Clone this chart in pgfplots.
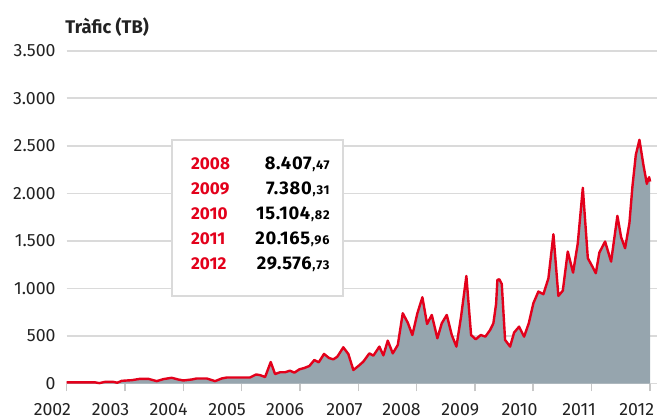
\documentclass[border=0pt]{standalone}
\usepackage{pgfplots}
\pgfplotsset{compat=1.18}
\usepackage{pgfplotstable}
\usepackage{fontspec}
\setmainfont{Fira Sans}
\definecolor{lred}{HTML}{E3001B}
\definecolor{lfill}{HTML}{96A5AE}
\definecolor{lgrid}{HTML}{DADADA}
\definecolor{ltxt}{HTML}{222222}

\pgfplotstableread{
x y
2002.000 12
2002.485 12
2002.559 4
2002.657 17
2002.799 17
2002.868 8
2002.943 28
2003.115 35
2003.257 49
2003.400 49
2003.544 25
2003.657 46
2003.801 60
2003.914 42
2004.000 32
2004.144 42
2004.230 53
2004.401 53
2004.544 25
2004.659 53
2004.744 63
2005.144 63
2005.247 95
2005.316 88
2005.402 68
2005.499 226
2005.573 100
2005.659 118
2005.744 118
2005.830 135
2005.904 114
2005.990 149
2006.075 163
2006.161 184
2006.247 247
2006.322 223
2006.413 311
2006.499 268
2006.573 254
2006.641 282
2006.744 381
2006.830 310
2006.916 142
2007.002 184
2007.087 230
2007.190 317
2007.259 293
2007.362 388
2007.431 296
2007.506 451
2007.592 317
2007.678 405
2007.763 739
2007.849 640
2007.928 510
2008.014 739
2008.100 907
2008.180 626
2008.261 721
2008.357 475
2008.432 633
2008.518 721
2008.604 510
2008.683 388
2008.763 703
2008.854 1131
2008.935 510
2009.015 465
2009.101 510
2009.180 493
2009.261 563
2009.317 633
2009.364 837
2009.386 1089
2009.420 1096
2009.461 1047
2009.518 458
2009.604 388
2009.672 535
2009.758 598
2009.844 493
2009.924 633
2010.003 844
2010.089 967
2010.175 939
2010.261 1107
2010.347 1570
2010.432 921
2010.508 977
2010.593 1388
2010.684 1166
2010.765 1476
2010.851 2058
2010.937 1318
2011.015 1230
2011.074 1160
2011.135 1377
2011.233 1493
2011.336 1282
2011.444 1763
2011.508 1539
2011.576 1423
2011.650 1686
2011.702 2072
2011.760 2405
2011.822 2563
2011.890 2300
2011.949 2100
2011.988 2170
2012.005 2124
}\traffic

\begin{document}
\begin{tikzpicture}
\begin{axis}[
  at={(33.35bp,17.25bp)}, anchor=south west,
  scale only axis, width=295.2bp, height=166.4bp,
  xmin=2002, xmax=2012.125, ymin=0, ymax=3500,
  xtick={2002,2003,...,2012}, ytick={0,500,...,3500},
  ymajorgrids, grid style={lgrid, line width=0.8bp},
  axis line style={draw=none},
  tick align=outside, xtick pos=bottom, ytick pos=left,
  major tick length=4bp,
  xtick style={draw=black!22, line width=0.7bp},
  ytick style={draw=none},
  /pgf/number format/assume math mode=true,
  tick label style={font=\fontsize{8.9}{10}\selectfont, text=ltxt},
  yticklabel style={/pgf/number format/1000 sep={.}, anchor=east, inner sep=0pt, xshift=-1.35bp},
  xticklabel style={/pgf/number format/1000 sep={}, anchor=north east, inner sep=0pt, xshift=2.3bp, yshift=-5.6bp},
  clip=false,
]
\addplot[fill=lfill, draw=none] table[x=x,y=y] {\traffic} \closedcycle;
\addplot[lred, line width=1.2bp, line join=round] table[x=x,y=y] {\traffic};
\node[anchor=base west, inner sep=0pt, font=\bfseries\fontsize{9.2}{11}\selectfont, text=ltxt]
  at (rel axis cs:0,1) [xshift=-0.8bp, yshift=8.7bp] {Tràfic (TB)};
\end{axis}
\begin{scope}[x=0.5bp,y=-0.5bp,shift={(0bp,209bp)}]
\draw[draw=lgrid, line width=1bp, fill=white] (171.7,140) rectangle (343.3,295.7);
\foreach \yy/\yr/\num/\dec in {170/2008/8.407/47, 195/2009/7.380/31, 220/2010/15.104/82, 245/2011/20.165/96, 270/2012/29.576/73}{
  \node[anchor=base west, inner sep=0pt, text=lred, font=\bfseries\fontsize{8.6}{10}\selectfont] at (190.7,\yy) {\yr};
  \node[anchor=base east, inner sep=0pt, text=black, font=\bfseries\fontsize{9.2}{10}\selectfont] at (330,\yy) {\addfontfeatures{LetterSpace=4}\num\kern0.4bp{\fontsize{6.4}{7}\selectfont\addfontfeatures{LetterSpace=6},\dec}};
}
\end{scope}
\pgfresetboundingbox
\path[use as bounding box] (0,0) rectangle (328.5bp,209bp);
\end{tikzpicture}
\end{document}
